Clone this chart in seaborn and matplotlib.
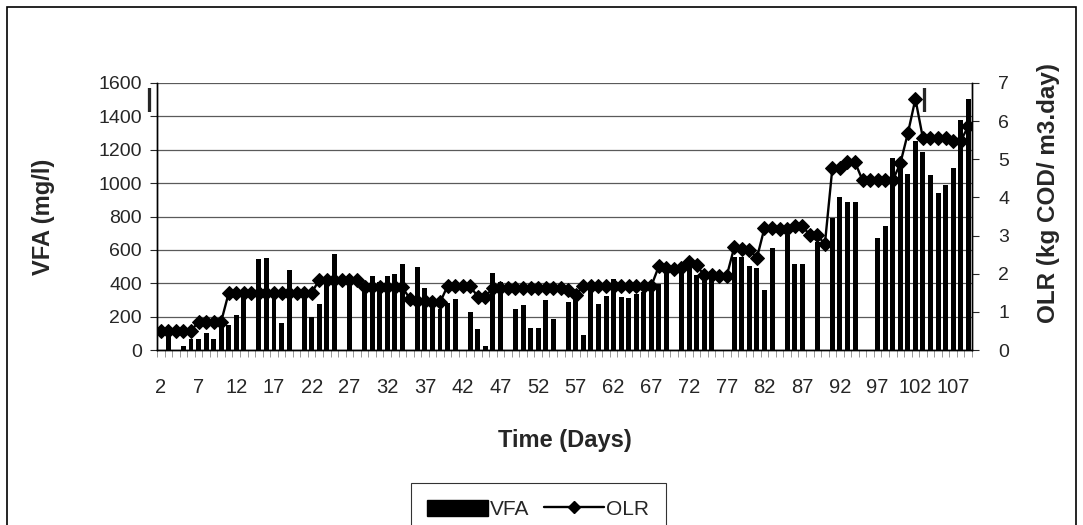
import numpy as np
import pandas as pd
import matplotlib
matplotlib.use('Agg')
import matplotlib.pyplot as plt
import seaborn as sns
from matplotlib.patches import Rectangle, Patch
from matplotlib.lines import Line2D

# days of operation (one category per day)
days = list(range(2, 110))

# VFA (mg/l); nan = no sample that day
vfa = [np.nan, 130, np.nan, 26, 64, 64, 100, 64, 170, 150,
       210, 360, np.nan, 546, 554, 370, 160, 480, np.nan, 350,
       196, 274, 420, 574, np.nan, 450, np.nan, 380, 446, 410,
       446, 456, 516, np.nan, 496, 370, 320, 244, 280, 304,
       np.nan, 230, 126, 26, 460, 410, np.nan, 244, 270, 130,
       130, 300, 184, np.nan, 290, 320, 90, 370, 274, 324,
       424, 320, 314, 334, 350, 370, 394, 514, np.nan, 506,
       494, 452, 456, 474, np.nan, np.nan, 556, 556, 506, 494,
       362, 610, np.nan, 690, 518, 515, np.nan, 650, np.nan, 790,
       916, 890, 890, np.nan, np.nan, 674, 744, 1150, 1120, 1056,
       1254, 1186, 1050, 940, 990, 1090, 1380, 1506]

# OLR (kg COD/m3.day)
olr = [0.5, 0.5, 0.5, 0.5, 0.5, 0.75, 0.75, 0.75, 0.75, 1.5,
       1.5, 1.5, 1.5, 1.5, 1.5, 1.5, 1.5, 1.5, 1.5, 1.5,
       1.5, 1.85, 1.85, 1.85, 1.85, 1.85, 1.85, 1.65, 1.65, 1.65,
       1.65, 1.65, 1.65, 1.35, 1.3, 1.3, 1.25, 1.25, 1.68, 1.68,
       1.68, 1.68, 1.4, 1.4, 1.63, 1.63, 1.63, 1.63, 1.63, 1.63,
       1.63, 1.63, 1.63, 1.63, 1.57, 1.45, 1.68, 1.68, 1.68, 1.68,
       1.68, 1.68, 1.68, 1.68, 1.68, 1.68, 2.2, 2.15, 2.12, 2.15,
       2.3, 2.22, 1.97, 1.97, 1.95, 1.95, 2.7, 2.65, 2.63, 2.42,
       3.2, 3.2, 3.18, 3.18, 3.25, 3.25, 3.02, 3.02, 2.77, 4.78,
       4.78, 4.92, 4.92, 4.45, 4.45, 4.45, 4.45, 4.45, 4.89, 5.68,
       6.58, 5.55, 5.55, 5.55, 5.55, 5.48, 5.48, 5.86]

sns.set_theme(style='white')
plt.rcParams['font.family'] = ['Liberation Sans', 'DejaVu Sans']

fig = plt.figure(figsize=(10.83, 5.25), dpi=100)
ax = fig.add_axes([0.145, 0.333, 0.7525, 0.509])

df = pd.DataFrame({'day': [str(d) for d in days], 'VFA': vfa})
sns.barplot(data=df, x='day', y='VFA', order=list(df['day']), color='black',
            saturation=1, width=0.66, linewidth=0, errorbar=None, ax=ax)

ax2 = ax.twinx()
pos = np.arange(len(days))
sns.lineplot(x=pos, y=olr, ax=ax2, color='black', linewidth=1.7,
             marker='D', markersize=7, markeredgecolor='black')

n = len(days)
ax.set_xlim(-0.5, n - 0.5)
ax.set_ylim(0, 1600)
ax.set_yticks(range(0, 1601, 200))
ax2.set_ylim(0, 7)
ax2.set_yticks(range(0, 8))

# labels every 5th day, tick marks between every category
ax.set_xticks(pos[::5])
ax.set_xticklabels([str(d) for d in days[::5]])
ax.set_xticks(np.arange(n + 1) - 0.5, minor=True)
ax.tick_params(axis='x', which='major', length=0, pad=20, labelsize=14.5)
ax.tick_params(axis='x', which='minor', length=5, width=0.6, color='#888888', direction='out', bottom=True)
ax.tick_params(axis='y', length=5, width=0.8, direction='out', left=True, pad=6, labelsize=14)
ax2.tick_params(axis='y', length=5, width=0.8, direction='out', right=True, pad=14, labelsize=14)

ax.yaxis.grid(True, color='#5a5a5a', linewidth=0.9)
ax.set_axisbelow(True)
for a in (ax, ax2):
    a.spines['top'].set_visible(False)
    for s in ('left', 'bottom', 'right'):
        a.spines[s].set_color('black')
        a.spines[s].set_linewidth(1.0)

ax.set_xlabel('Time (Days)', fontsize=17, fontweight='bold', labelpad=23)
ax.set_ylabel('VFA (mg/l)', fontsize=17, fontweight='bold', labelpad=31)
ax2.set_ylabel('OLR (kg COD/ m3.day)', fontsize=17.5, fontweight='bold', labelpad=20)
ax2.yaxis.label.set_y(0.59)  # the original sits this label a bit above centre

# stray marks seen in the original
fig.text(148.5 / 1083, 1 - 100 / 525, '|', fontsize=18, fontweight='bold', ha='center', va='center')
fig.text(924 / 1083, 1 - 100 / 525, '|', fontsize=18, fontweight='bold', ha='center', va='center')

handles = [Patch(facecolor='black', edgecolor='black', label='VFA'),
           Line2D([], [], color='black', linewidth=1.7, marker='D', markersize=6, label='OLR')]
leg = fig.legend(handles=handles, loc='upper center', bbox_to_anchor=(0.497, 1 - 483 / 525), ncol=2,
                 frameon=True, fancybox=False, fontsize=15, handlelength=2.9, handleheight=0.8,
                 handletextpad=0.1, columnspacing=0.7, borderpad=0.8, borderaxespad=0)
leg.get_frame().set_edgecolor('black')
leg.get_frame().set_linewidth(0.8)

# outer chart border
fig.patches.append(Rectangle((7 / 1083, -0.05), 1069 / 1083, 1.05 - 7 / 525,
                             transform=fig.transFigure, fill=False, edgecolor='black', linewidth=1.2))

fig.savefig('out.png', dpi=100)
